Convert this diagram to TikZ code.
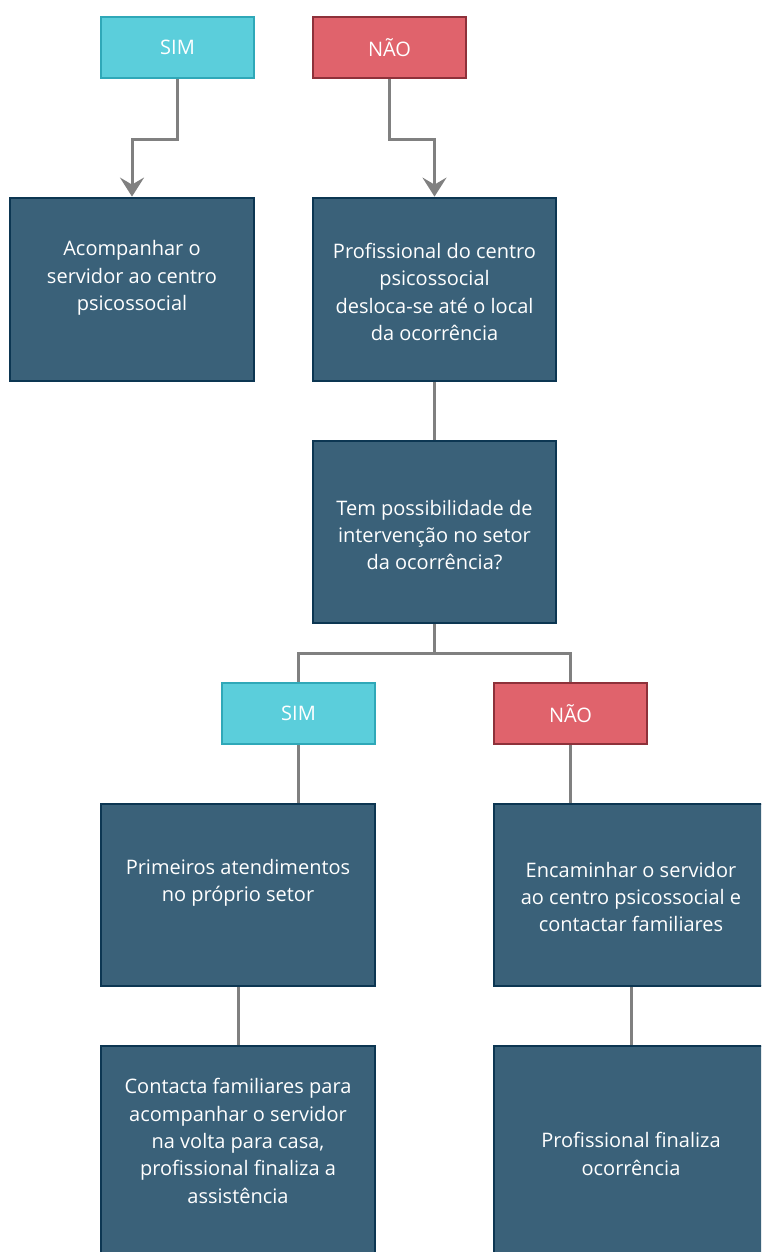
\documentclass[tikz,border=0pt]{standalone}
\usepackage{fontspec}
\setmainfont{Open Sans}
\usetikzlibrary{arrows.meta,calc}

\definecolor{stepfill}{HTML}{3A6179}
\definecolor{stepline}{HTML}{0C3652}
\definecolor{yesfill}{HTML}{5BCEDB}
\definecolor{yesline}{HTML}{2FA8B8}
\definecolor{nofill}{HTML}{E0636C}
\definecolor{noline}{HTML}{8E313A}
\definecolor{wire}{HTML}{808080}

\tikzset{
  stepbox/.style={draw=stepline, fill=stepfill, line width=2.8pt, rectangle, inner sep=0pt},
  yesbox/.style={draw=yesline, fill=yesfill, line width=2.5pt, rectangle, inner sep=0pt,
    minimum width=153pt, minimum height=61pt, text=white, font=\fontsize{20}{27}\selectfont},
  nobox/.style={draw=noline, fill=nofill, line width=2.5pt, rectangle, inner sep=0pt,
    minimum width=153pt, minimum height=61pt, text=white, font=\fontsize{20}{27}\selectfont},
  steptext/.style={text=white, align=center, inner sep=0pt, font=\fontsize{20}{27.3}\selectfont},
  conn/.style={draw=wire, line width=3pt},
  tip/.style={-{Stealth[length=19pt,width=24pt,inset=7pt]}}
}

\begin{document}
\begin{tikzpicture}[x=1pt,y=-1pt]
\useasboundingbox (0,0) rectangle (761,1252);
\clip (0,0) rectangle (761,1252);

% first answer row
\node[yesbox] (sim1) at (177.5,47.5) {SIM};
\node[nobox]  (nao1) at (389.5,47.5) {NÃO};

% first actions
\node[stepbox, minimum width=244pt, minimum height=183pt] (a) at (132,289.5) {};
\node[steptext] (ta) at (132,278) {Acompanhar o\\servidor ao centro\\psicossocial};

\node[stepbox, minimum width=243pt, minimum height=183pt] (b) at (434.5,289.5) {};
\node[steptext] (tb) at (434.5,292) {Profissional do centro\\psicossocial\\desloca-se até o local\\da ocorrência};

% question
\node[stepbox, minimum width=243pt, minimum height=182pt] (tem) at (434.5,532) {};
\node[steptext] (ttem) at (434.5,535) {Tem possibilidade de\\intervenção no setor\\da ocorrência?};

% second answer row
\node[yesbox] (sim2) at (298.5,713.5) {SIM};
\node[nobox]  (nao2) at (570.5,713.5) {NÃO};

% second actions
\node[stepbox, minimum width=274pt, minimum height=182pt] (prim) at (238,895) {};
\node[steptext] (tprim) at (238,883) {Primeiros atendimentos\\no próprio setor};

\node[stepbox, minimum width=274pt, minimum height=182pt] (enc) at (631,895) {};
\node[steptext] (tenc) at (631,897) {Encaminhar o servidor\\ao centro psicossocial e\\contactar familiares};

% closing actions
\node[stepbox, minimum width=274pt, minimum height=240pt] (cont) at (238,1166) {};
\node[steptext] (tcont) at (238,1141) {Contacta familiares para\\acompanhar o servidor\\na volta para casa,\\profissional finaliza a\\assistência};

\node[stepbox, minimum width=274pt, minimum height=240pt] (fin) at (631,1166) {};
\node[steptext] (tfin) at (631,1154) {Profissional finaliza\\ocorrência};

% connectors
\draw[conn, tip] (sim1.south) -- ++(0,60) -| (a.north);
\draw[conn, tip] (nao1.south) -- ++(0,60) -| (b.north);
\draw[conn] (b.south) -- (tem.north);
\draw[conn] (tem.south) -- ++(0,29) coordinate (split) -| (sim2.north);
\draw[conn] (split) -| (nao2.north);
\draw[conn] (sim2.south) -- (sim2.south |- prim.north);
\draw[conn] (nao2.south) -- (nao2.south |- enc.north);
\draw[conn] (prim.south) -- (cont.north);
\draw[conn] (enc.south) -- (fin.north);
\end{tikzpicture}
\end{document}
